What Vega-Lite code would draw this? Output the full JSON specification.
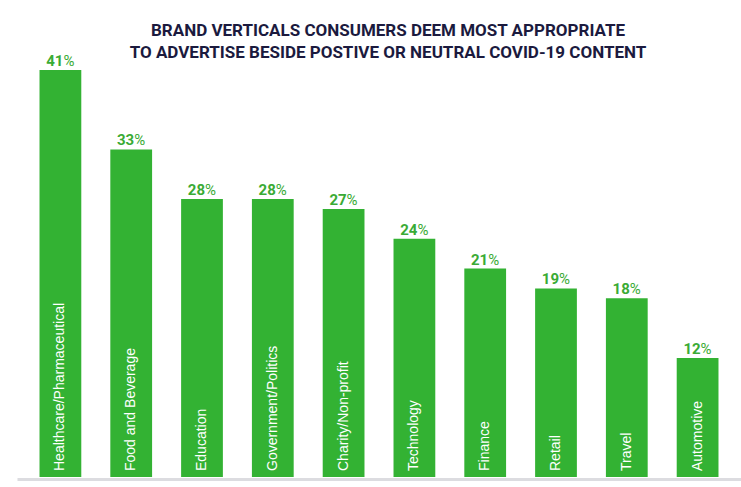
{
  "$schema": "https://vega.github.io/schema/vega-lite/v6.json",
  "width": 724,
  "height": 407,
  "autosize": "none",
  "padding": {"left": 17, "right": 0, "top": 70, "bottom": 10},
  "background": "white",
  "title": {
    "text": ["BRAND VERTICALS CONSUMERS DEEM MOST APPROPRIATE", "TO ADVERTISE BESIDE POSTIVE OR NEUTRAL COVID-19 CONTENT"],
    "font": "Roboto",
    "fontSize": 17,
    "fontWeight": "bold",
    "color": "#1b1a3e",
    "lineHeight": 22,
    "anchor": "middle",
    "dx": 9,
    "offset": -8
  },
  "config": {
    "view": {"stroke": null}
  },
  "data": {
    "values": [
      {"vertical": "Healthcare/Pharmaceutical", "pct": 41},
      {"vertical": "Food and Beverage", "pct": 33},
      {"vertical": "Education", "pct": 28},
      {"vertical": "Government/Politics", "pct": 28},
      {"vertical": "Charity/Non-profit", "pct": 27},
      {"vertical": "Technology", "pct": 24},
      {"vertical": "Finance", "pct": 21},
      {"vertical": "Retail", "pct": 19},
      {"vertical": "Travel", "pct": 18},
      {"vertical": "Automotive", "pct": 12}
    ]
  },
  "encoding": {
    "x": {
      "field": "vertical",
      "type": "nominal",
      "sort": null,
      "scale": {"paddingInner": 0.41, "paddingOuter": 0.318},
      "axis": {
        "title": null,
        "labels": false,
        "ticks": false,
        "domain": true,
        "domainColor": "#dcdce0",
        "domainWidth": 3,
        "offset": 2
      }
    },
    "y": {
      "field": "pct",
      "type": "quantitative",
      "scale": {"domain": [0, 41], "nice": false, "zero": true},
      "axis": null
    }
  },
  "layer": [
    {"mark": {"type": "bar", "color": "#33b233"}},
    {
      "mark": {
        "type": "text",
        "font": "Roboto",
        "fontSize": 15,
        "fontWeight": "bold",
        "color": "#3aab35",
        "align": "right",
        "baseline": "alphabetic",
        "dx": 3,
        "dy": -4
      },
      "encoding": {"text": {"field": "pct", "type": "quantitative"}}
    },
    {
      "mark": {
        "type": "text",
        "text": "%",
        "font": "Roboto",
        "fontSize": 15,
        "fontWeight": "normal",
        "color": "#3aab35",
        "align": "left",
        "baseline": "alphabetic",
        "dx": 3,
        "dy": -4
      }
    },
    {
      "mark": {
        "type": "text",
        "font": "Liberation Sans",
        "fontSize": 14,
        "color": "white",
        "angle": 270,
        "align": "left",
        "baseline": "middle",
        "dx": 6
      },
      "encoding": {
        "y": {"datum": 0},
        "text": {"field": "vertical", "type": "nominal"}
      }
    }
  ]
}
